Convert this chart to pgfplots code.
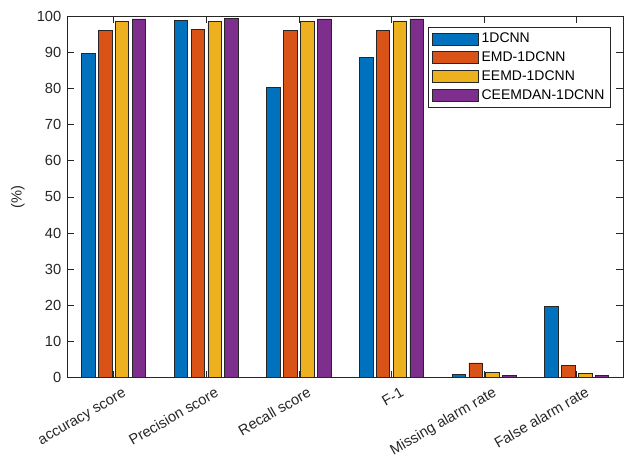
\documentclass[border=0pt]{standalone}
\usepackage{pgfplots}
\pgfplotsset{compat=1.18}
\usepackage{fontspec}
\setmainfont{Liberation Sans}

\definecolor{mblue}{rgb}{0,0.447,0.741}
\definecolor{morange}{rgb}{0.85,0.325,0.098}
\definecolor{myellow}{rgb}{0.929,0.694,0.125}
\definecolor{mpurple}{rgb}{0.494,0.184,0.556}
\definecolor{axgray}{rgb}{0.15,0.15,0.15}

\begin{document}
\begin{tikzpicture}
\begin{axis}[
  scale only axis,
  width=417pt, height=271.5pt,
  ybar, bar width=0.146,
  xmin=0.5, xmax=6.5,
  ymin=0, ymax=100,
  xtick={1,2,3,4,5,6},
  xticklabels={accuracy score, Precision score, Recall score, F-1, Missing alarm rate, False alarm rate},
  ytick={0,10,...,100},
  tick align=inside,
  major tick length=5pt,
  axis line style={axgray, line width=0.5pt},
  every tick/.style={axgray, line width=0.5pt},
  tick label style={font=\fontsize{11}{13}\selectfont, text=axgray},
  /pgf/number format/assume math mode=true,
  xticklabel style={rotate=30, anchor=north east, inner sep=1pt,
    text height=7.9pt, text depth=2.2pt, yshift=-7.5pt, xshift=3pt},
  yticklabel style={xshift=-1pt},
  ylabel={(\%)},
  ylabel style={at={(axis description cs:-0.089,0.5)}, anchor=center, font=\fontsize{11}{13}\selectfont, text=axgray},
  legend style={at={(0.978,0.97)}, anchor=north east, draw=axgray, line width=0.5pt,
    font=\fontsize{10.5}{12}\selectfont, text=black, row sep=1.2pt, inner sep=2.5pt,
    cells={anchor=west}},
  legend image code/.code={\draw[#1, bar width=0pt] (0pt,-4.5pt) rectangle (35pt,4.5pt);},
  every axis plot/.append style={draw=axgray, line width=0.5pt},
]
\addplot[fill=mblue, bar shift=-0.273] coordinates {(1,89.6) (2,98.7) (3,80.2) (4,88.5) (5,0.9) (6,19.7)};
\addplot[fill=morange, bar shift=-0.091] coordinates {(1,96.1) (2,96.4) (3,95.9) (4,96.1) (5,4.1) (6,3.4)};
\addplot[fill=myellow, bar shift=0.091] coordinates {(1,98.5) (2,98.5) (3,98.4) (4,98.5) (5,1.4) (6,1.2)};
\addplot[fill=mpurple, bar shift=0.273] coordinates {(1,99.2) (2,99.3) (3,99.2) (4,99.2) (5,0.75) (6,0.55)};
\legend{1DCNN, EMD-1DCNN, EEMD-1DCNN, CEEMDAN-1DCNN}
\end{axis}
\pgfresetboundingbox
\path ([xshift=-50.5pt,yshift=-63.75pt]current axis.south west) rectangle ([xshift=1.5pt,yshift=12pt]current axis.north east);
\end{tikzpicture}
\end{document}
